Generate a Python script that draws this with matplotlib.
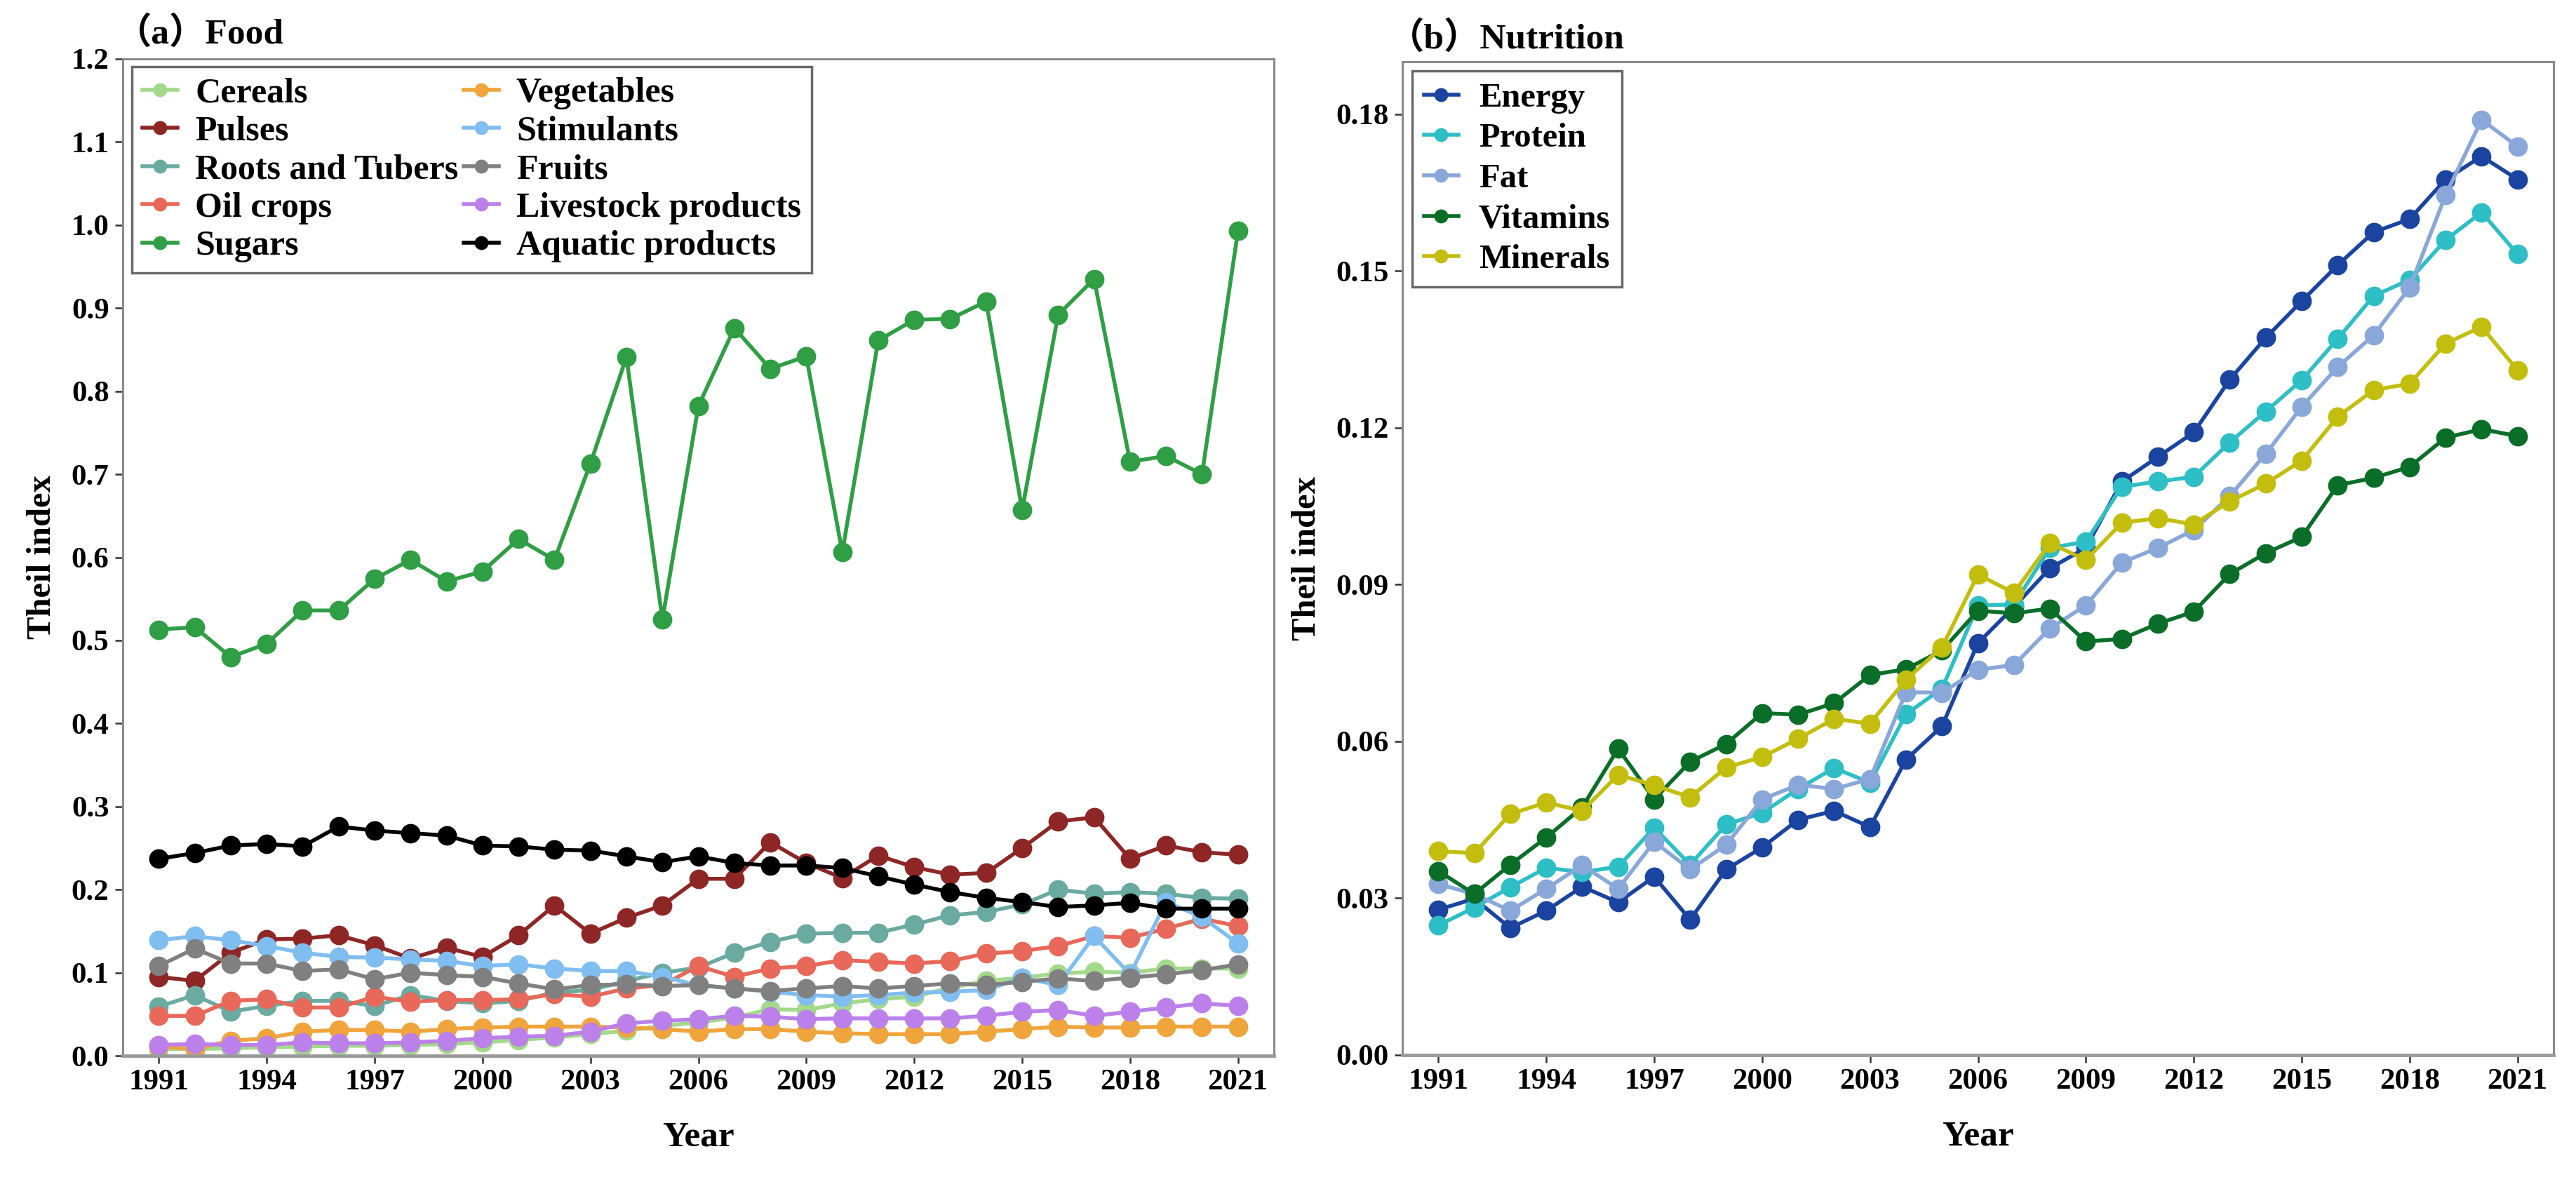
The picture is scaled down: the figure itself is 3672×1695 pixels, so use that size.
import numpy as np
import matplotlib
matplotlib.use('Agg')
import matplotlib.pyplot as plt
from matplotlib.ticker import FormatStrFormatter

plt.rcParams['font.family'] = ['Liberation Serif', 'Noto Sans CJK SC', 'DejaVu Sans']
plt.rcParams['font.weight'] = 'bold'

years = list(range(1991, 2022))

# (a) Food
cereals = [0.008, 0.008, 0.009, 0.010, 0.011, 0.012, 0.012, 0.013, 0.014, 0.016, 0.019, 0.022, 0.026, 0.030, 0.036, 0.040,
           0.046, 0.056, 0.055, 0.063, 0.068, 0.071, 0.082, 0.090, 0.094, 0.099, 0.101, 0.100, 0.105, 0.105, 0.105]
pulses = [0.095, 0.090, 0.124, 0.140, 0.141, 0.145, 0.133, 0.117, 0.130, 0.119, 0.145, 0.181, 0.147, 0.166, 0.181, 0.213,
          0.213, 0.257, 0.232, 0.214, 0.241, 0.227, 0.218, 0.220, 0.250, 0.282, 0.287, 0.237, 0.253, 0.245, 0.242]
roots = [0.059, 0.073, 0.053, 0.060, 0.066, 0.066, 0.060, 0.073, 0.066, 0.063, 0.066, 0.076, 0.079, 0.090, 0.100, 0.106,
         0.124, 0.137, 0.147, 0.148, 0.148, 0.158, 0.169, 0.173, 0.182, 0.200, 0.195, 0.197, 0.195, 0.190, 0.189]
oil_crops = [0.048, 0.048, 0.066, 0.068, 0.058, 0.058, 0.071, 0.065, 0.067, 0.067, 0.068, 0.074, 0.071, 0.081, 0.085, 0.108,
             0.095, 0.105, 0.108, 0.115, 0.113, 0.111, 0.114, 0.123, 0.126, 0.132, 0.144, 0.142, 0.153, 0.165, 0.156]
sugars = [0.513, 0.516, 0.480, 0.496, 0.536, 0.536, 0.574, 0.597, 0.571, 0.583, 0.622, 0.597, 0.713, 0.841, 0.525, 0.782,
          0.876, 0.827, 0.842, 0.606, 0.861, 0.886, 0.887, 0.908, 0.657, 0.892, 0.935, 0.715, 0.722, 0.700, 0.993]
vegetables = [0.011, 0.008, 0.018, 0.021, 0.029, 0.031, 0.031, 0.029, 0.032, 0.034, 0.035, 0.035, 0.035, 0.034, 0.032, 0.029,
              0.032, 0.032, 0.029, 0.027, 0.026, 0.026, 0.026, 0.029, 0.032, 0.035, 0.034, 0.034, 0.035, 0.035, 0.035]
stimulants = [0.139, 0.144, 0.139, 0.132, 0.124, 0.119, 0.118, 0.116, 0.114, 0.108, 0.110, 0.105, 0.102, 0.102, 0.095, 0.085,
              0.081, 0.077, 0.073, 0.071, 0.073, 0.076, 0.077, 0.079, 0.094, 0.085, 0.144, 0.098, 0.185, 0.167, 0.135]
fruits = [0.108, 0.129, 0.111, 0.111, 0.102, 0.104, 0.092, 0.100, 0.097, 0.095, 0.087, 0.080, 0.085, 0.086, 0.084, 0.085,
          0.081, 0.078, 0.081, 0.084, 0.081, 0.084, 0.087, 0.085, 0.089, 0.093, 0.090, 0.094, 0.098, 0.103, 0.110]
livestock = [0.013, 0.014, 0.013, 0.013, 0.016, 0.015, 0.015, 0.016, 0.018, 0.021, 0.023, 0.024, 0.029, 0.039, 0.042, 0.044,
             0.048, 0.047, 0.044, 0.045, 0.045, 0.045, 0.045, 0.048, 0.053, 0.055, 0.048, 0.053, 0.058, 0.063, 0.060]
aquatic = [0.237, 0.244, 0.253, 0.255, 0.252, 0.276, 0.271, 0.268, 0.265, 0.253, 0.252, 0.248, 0.247, 0.240, 0.233, 0.240,
           0.232, 0.229, 0.229, 0.226, 0.216, 0.206, 0.197, 0.190, 0.185, 0.179, 0.181, 0.184, 0.177, 0.177, 0.177]

food_names = ['Cereals', 'Pulses', 'Roots and Tubers', 'Oil crops', 'Sugars',
              'Vegetables', 'Stimulants', 'Fruits', 'Livestock products', 'Aquatic products']
food_series = [cereals, pulses, roots, oil_crops, sugars, vegetables, stimulants, fruits, livestock, aquatic]
food_colors = ['#a3d98b', '#8e2626', '#6aaaa0', '#e8685a', '#2f9e44',
               '#f0a43c', '#80bdf0', '#808080', '#bb80ea', '#000000']

# (b) Nutrition
energy = [0.0278, 0.0299, 0.0243, 0.0276, 0.0322, 0.0292, 0.0341, 0.0259, 0.0355, 0.0397, 0.0450, 0.0467, 0.0436, 0.0565,
          0.0629, 0.0788, 0.0857, 0.0931, 0.0970, 0.1097, 0.1144, 0.1191, 0.1292, 0.1372, 0.1442, 0.1511, 0.1574, 0.1599,
          0.1675, 0.1719, 0.1675]
protein = [0.0248, 0.0282, 0.0321, 0.0358, 0.0350, 0.0360, 0.0435, 0.0364, 0.0441, 0.0463, 0.0509, 0.0549, 0.0521, 0.0652,
           0.0701, 0.0860, 0.0862, 0.0970, 0.0982, 0.1087, 0.1097, 0.1106, 0.1172, 0.1231, 0.1291, 0.1370, 0.1452, 0.1483,
           0.1559, 0.1612, 0.1532]
fat = [0.0327, 0.0308, 0.0276, 0.0318, 0.0363, 0.0318, 0.0408, 0.0355, 0.0402, 0.0489, 0.0517, 0.0509, 0.0528, 0.0694,
       0.0693, 0.0737, 0.0746, 0.0816, 0.0860, 0.0942, 0.0970, 0.1004, 0.1069, 0.1150, 0.1240, 0.1316, 0.1377, 0.1468,
       0.1645, 0.1789, 0.1738]
vitamins = [0.0352, 0.0308, 0.0364, 0.0416, 0.0474, 0.0586, 0.0489, 0.0561, 0.0595, 0.0654, 0.0651, 0.0673, 0.0727, 0.0738,
            0.0774, 0.0850, 0.0845, 0.0854, 0.0791, 0.0796, 0.0825, 0.0848, 0.0920, 0.0960, 0.0991, 0.1090, 0.1104, 0.1125,
            0.1181, 0.1197, 0.1184]
minerals = [0.0390, 0.0386, 0.0461, 0.0483, 0.0467, 0.0536, 0.0516, 0.0493, 0.0550, 0.0570, 0.0605, 0.0643, 0.0634, 0.0718,
            0.0780, 0.0919, 0.0884, 0.0979, 0.0947, 0.1018, 0.1027, 0.1015, 0.1059, 0.1093, 0.1137, 0.1221, 0.1272, 0.1284,
            0.1361, 0.1393, 0.1310]

nutr_names = ['Energy', 'Protein', 'Fat', 'Vitamins', 'Minerals']
nutr_series = [energy, protein, fat, vitamins, minerals]
nutr_colors = ['#1b44a0', '#2ebec5', '#8aa7d9', '#0a6e28', '#c3be0e']

W, H = 3673, 1695
fig = plt.figure(figsize=(W / 100, H / 100), dpi=100)

ax1 = fig.add_axes([175 / W, 1 - 1505 / H, 1641 / W, 1421 / H])
ax2 = fig.add_axes([1999 / W, 1 - 1504 / H, 1641 / W, 1416 / H])


def style_axes(ax):
    for side in ['top', 'right', 'left']:
        ax.spines[side].set_color('#8a8a8a')
        ax.spines[side].set_linewidth(2.2)
    ax.spines['bottom'].set_color('#9a9a9a')
    ax.spines['bottom'].set_linewidth(3.5)
    ax.tick_params(direction='out', length=8, width=1.8, color='#333333',
                   labelsize=31, pad=6)
    for lab in ax.get_xticklabels() + ax.get_yticklabels():
        lab.set_fontweight('bold')
    ax.set_xlabel('Year', fontsize=37, fontweight='bold', labelpad=26)
    ax.set_ylabel('Theil index', fontsize=35, fontweight='bold')


for name, vals, col in zip(food_names, food_series, food_colors):
    ax1.plot(years, vals, '-o', color=col, lw=4, ms=19, label=name)

ax1.set_xlim(1990, 2022)
ax1.set_ylim(0, 1.2)
ax1.set_xticks(range(1991, 2022, 3))
ax1.set_yticks(np.arange(0, 1.21, 0.1))
ax1.yaxis.set_major_formatter(FormatStrFormatter('%.1f'))
style_axes(ax1)
ax1.yaxis.labelpad = 14
leg1 = ax1.legend(loc='upper left', bbox_to_anchor=(0.008, 0.992), ncol=2, fontsize=36,
                  frameon=True, fancybox=False, edgecolor='#444444', borderaxespad=0,
                  handlelength=1.0, handletextpad=0.5, columnspacing=0.15,
                  labelspacing=0.17, borderpad=0.3, markerscale=0.7)
leg1.get_frame().set_linewidth(2.5)
for t in leg1.get_texts():
    t.set_fontweight('bold')
ax1.text(-0.006, 1.008, '（a）Food', transform=ax1.transAxes, fontsize=37,
         fontweight='bold', ha='left', va='bottom')

for name, vals, col in zip(nutr_names, nutr_series, nutr_colors):
    ax2.plot(years, vals, '-o', color=col, lw=4, ms=19, label=name)

ax2.set_xlim(1990, 2022)
ax2.set_ylim(0, 0.19)
ax2.set_xticks(range(1991, 2022, 3))
ax2.set_yticks(np.arange(0, 0.181, 0.03))
ax2.yaxis.set_major_formatter(FormatStrFormatter('%.2f'))
style_axes(ax2)
ax2.yaxis.labelpad = 14
leg2 = ax2.legend(loc='upper left', bbox_to_anchor=(0.0085, 0.991), ncol=1, fontsize=35,
                  frameon=True, fancybox=False, edgecolor='#444444', borderaxespad=0,
                  handlelength=1.0, handletextpad=0.6, labelspacing=0.28,
                  borderpad=0.35, markerscale=0.7)
leg2.get_frame().set_linewidth(2.5)
for t in leg2.get_texts():
    t.set_fontweight('bold')
ax2.text(-0.012, 1.006, '（b）Nutrition', transform=ax2.transAxes, fontsize=37,
         fontweight='bold', ha='left', va='bottom')

fig.savefig('out.png', dpi=100)
